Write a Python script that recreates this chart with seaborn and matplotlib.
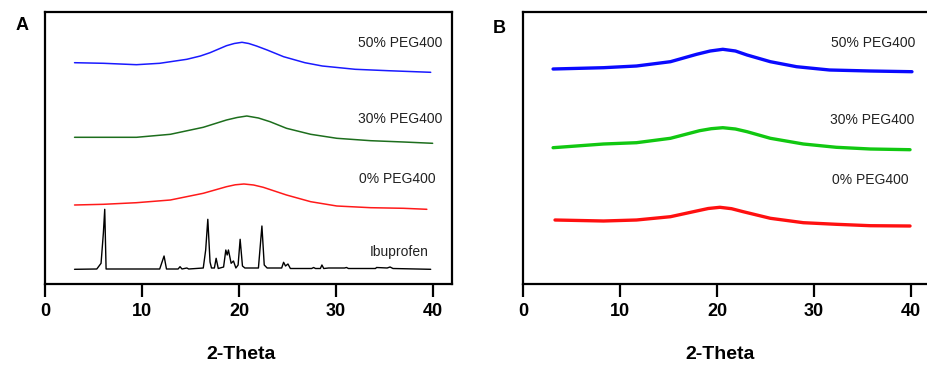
import numpy as np
import pandas as pd
import matplotlib
matplotlib.use("Agg")
import matplotlib.pyplot as plt
import seaborn as sns

# ---------------- data (arbitrary intensity units) ----------------
# Panel A
a_blue_x = [3, 6, 9.4, 11.8, 14.6, 16.0, 17.0, 18.7, 19.5, 20.3, 21.0, 21.8, 22.9, 24.6, 26.8, 28.6, 32.0, 35.4, 39.8]
a_blue_y = [221.3, 220.7, 219.3, 220.7, 224.7, 228.0, 231.3, 238.3, 240.5, 241.7, 240.5, 238, 234, 227.3, 221.3, 218, 214.7, 213.3, 211.7]

a_green_x = [3, 6, 9.4, 12.9, 16.3, 18.7, 19.8, 20.8, 22.0, 23.2, 24.9, 27.4, 30.1, 33.6, 37.0, 40.0]
a_green_y = [146.7, 146.7, 146.7, 149.7, 156.7, 164, 166.5, 168, 166, 162.3, 155.7, 149.7, 145.7, 143.3, 142, 140.7]

a_red_x = [3, 6, 9.4, 12.9, 16.3, 18.7, 19.6, 20.5, 21.5, 22.5, 24.9, 27.4, 30.1, 33.6, 37.0, 39.4]
a_red_y = [79, 79.7, 81.3, 84, 90.7, 97.3, 99.2, 100, 99, 96.7, 89, 82.3, 78, 76.3, 75.7, 74.7]

ibu_x = [3.0, 5.3, 5.74, 5.98, 6.12, 6.26, 11.8, 12.25, 12.5, 13.7, 13.9, 14.1, 14.6, 14.8,
         16.3, 16.55, 16.77, 17.0, 17.15, 17.45, 17.63, 17.85, 18.4, 18.63, 18.77, 18.9,
         19.18, 19.42, 19.67, 19.9, 20.11, 20.35, 20.6, 22.0, 22.36, 22.6, 22.9, 24.4, 24.6,
         24.8, 25.05, 25.3, 27.5, 27.7, 27.9, 28.4, 28.56, 28.75, 29.25, 30.9, 31.1, 31.3,
         34.1, 34.2, 35.3, 35.6, 35.9, 39.8]
ibu_y = [14.7, 15, 20.7, 51, 74.7, 15, 15, 28, 15, 15, 17.3, 15, 16, 15,
         16, 34, 64.7, 22, 16, 16, 25.7, 15.5, 17, 34, 29, 34,
         20.7, 23, 16, 19, 44.7, 18, 16, 16, 58, 19, 16, 16, 21.7,
         18, 20, 15.5, 15.5, 16.5, 15.5, 15.5, 19, 15.5, 16, 16, 16.5, 15.5,
         15.5, 16.5, 16, 17, 15.5, 14.7]

# Panel B
b_blue_x = [3.1, 8.3, 11.7, 15.2, 17.9, 19.3, 20.6, 21.9, 23.1, 25.5, 28.2, 31.6, 35.8, 40.1]
b_blue_y = [215, 216.3, 218, 222.3, 229.7, 233.0, 234.7, 233.0, 229, 222.3, 217.3, 214, 213, 212.3]

b_green_x = [3.1, 8.3, 11.7, 15.2, 18.2, 19.4, 20.6, 21.9, 23.1, 25.5, 28.9, 32.3, 35.8, 39.9]
b_green_y = [136.3, 140, 141.3, 145.7, 153.3, 155.3, 156.3, 155.0, 152.3, 145.7, 140, 136.7, 135, 134.3]

b_red_x = [3.3, 8.3, 11.7, 15.2, 17.9, 19.1, 20.3, 21.5, 22.7, 25.5, 28.9, 32.3, 35.8, 39.9]
b_red_y = [64, 63, 64, 67.3, 73, 75.5, 76.7, 75.3, 72.3, 65.7, 61.3, 59.7, 58.3, 58]

x_ticks = [0, 10, 20, 30, 40]
x_label = "2-Theta"
labels_a = ["50% PEG400", "30% PEG400", "0% PEG400", "Ibuprofen"]
labels_b = ["50% PEG400", "30% PEG400", "0% PEG400"]

# ---------------- style ----------------
sns.set_theme(style="white")
plt.rcParams["font.family"] = ["Liberation Sans", "DejaVu Sans"]
plt.rcParams["text.color"] = "black"
plt.rcParams["axes.labelcolor"] = "black"
plt.rcParams["xtick.color"] = "black"

fig = plt.figure(figsize=(9.28, 3.65), dpi=100)
W, H = 928.0, 365.0
axA = fig.add_axes([45.5 / W, 1 - 284 / H, (452 - 45.5) / W, (284 - 12) / H])
axB = fig.add_axes([523 / W, 1 - 284 / H, 42 * 9.7 / W, (284 - 12) / H])

def draw(ax, x, y, color, lw):
    sns.lineplot(x=x, y=y, ax=ax, color=color, lw=lw, estimator=None, sort=False)

draw(axA, a_blue_x, a_blue_y, "#1a1aff", 1.1)
draw(axA, a_green_x, a_green_y, "#1d6e1d", 1.1)
draw(axA, a_red_x, a_red_y, "#ff1a1a", 1.1)
draw(axA, ibu_x, ibu_y, "black", 1.0)

draw(axB, b_blue_x, b_blue_y, "#0a0aff", 2.4)
draw(axB, b_green_x, b_green_y, "#11c811", 2.4)
draw(axB, b_red_x, b_red_y, "#ff1010", 2.4)

lab_font = dict(family=["Liberation Sans Narrow", "Liberation Sans"], fontsize=10, color="#222222",
                ha="center", va="center")
for txt, (xx, yy) in zip(labels_a, [(36.6, 241), (36.6, 165), (36.4, 105), (36.5, 32)]):
    axA.text(xx, yy, txt, **lab_font)
for txt, (xx, yy) in zip(labels_b, [(36.1, 241), (36.0, 164), (35.8, 104)]):
    axB.text(xx, yy, txt, **lab_font)

for ax, frac in [(axA, 0.481), (axB, 0.484)]:
    ax.set_xlim(0, 42)
    ax.set_ylim(0, 272)
    ax.set_yticks([])
    ax.set_xticks(x_ticks)
    ax.set_xticklabels([str(t) for t in x_ticks], fontsize=13, fontweight="bold")
    ax.tick_params(axis="x", direction="out", length=9, width=1.6, pad=5, colors="black",
                   bottom=True)
    for s in ax.spines.values():
        s.set_linewidth(1.6)
        s.set_color("black")
    ax.set_xlabel(x_label, fontsize=14, fontweight="bold", labelpad=18.5, color="black")
    ax.xaxis.label.set_x(frac)
    ax.set_ylabel("")

fig.text(22 / W, 1 - 25 / H, "A", fontsize=13, fontweight="bold", ha="center", va="center")
fig.text(499 / W, 1 - 28.5 / H, "B", fontsize=13, fontweight="bold", ha="center", va="center")

fig.savefig("out.png", dpi=100)
